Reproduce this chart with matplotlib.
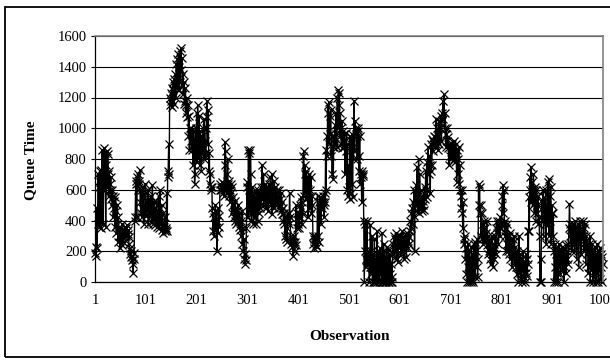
import numpy as np
import matplotlib.pyplot as plt
from matplotlib.patches import Rectangle

# queue time per observation in blocks of 100
q_001_100 = [
    190, 230, 170, 480, 220, 380, 700, 620, 360, 720,
    650, 730, 350, 610, 860, 700, 380, 640, 870, 600,
    840, 360, 760, 850, 620, 830, 700, 560, 720, 640,
    600, 680, 540, 600, 500, 560, 420, 530, 480, 360,
    550, 460, 320, 500, 380, 260, 420, 300, 340, 220,
    350, 280, 300, 240, 380, 310, 260, 340, 290, 360,
    320, 350, 300, 370, 310, 340, 290, 250, 220, 180,
    200, 160, 140, 170, 120, 60, 150, 190, 420, 400,
    640, 660, 420, 680, 600, 700, 660, 640, 730, 520,
    450, 600, 480, 420, 560, 620, 380, 500, 450, 640,
]
q_101_200 = [
    580, 430, 520, 470, 600, 380, 540, 450, 500, 420,
    560, 470, 390, 630, 450, 380, 520, 410, 480, 370,
    440, 520, 360, 470, 400, 560, 350, 480, 600, 420,
    380, 500, 340, 450, 320, 380, 360, 330, 420, 350,
    340, 580, 330, 680, 720, 900, 700, 1200, 1150, 1230,
    1180, 1260, 1140, 1300, 1250, 1320, 1160, 1280, 1350, 1200,
    1420, 1290, 1450, 1250, 1480, 1400, 1250, 1500, 1300, 1520,
    1380, 1460, 1280, 1350, 1220, 1300, 1160, 1180, 1260, 1100,
    1150, 1200, 1070, 1150, 950, 1080, 860, 1000, 920, 1000,
    860, 990, 920, 760, 980, 900, 640, 700, 1000, 820,
]
q_201_300 = [
    1100, 780, 1150, 900, 820, 1080, 760, 980, 860, 720,
    950, 830, 1000, 880, 800, 1060, 820, 920, 840, 1000,
    1180, 1070, 900, 1120, 720, 840, 640, 700, 620, 600,
    620, 480, 330, 450, 300, 420, 380, 500, 340, 460,
    200, 400, 320, 480, 360, 430, 600, 640, 620, 600,
    650, 580, 620, 640, 560, 760, 910, 850, 620, 700,
    580, 800, 640, 560, 660, 600, 520, 640, 580, 620,
    450, 550, 500, 420, 470, 400, 530, 440, 380, 460,
    420, 500, 400, 450, 360, 420, 340, 400, 300, 460,
    250, 350, 200, 280, 150, 120, 180, 140, 350, 620,
]
q_301_400 = [
    650, 420, 860, 600, 840, 450, 860, 700, 400, 620,
    450, 560, 380, 520, 600, 420, 550, 380, 480, 570,
    400, 600, 450, 520, 560, 480, 620, 500, 560, 760,
    540, 620, 700, 500, 640, 600, 560, 480, 620, 540,
    580, 460, 640, 520, 600, 680, 500, 560, 440, 700,
    520, 600, 480, 660, 560, 620, 500, 580, 540, 600,
    520, 560, 480, 600, 540, 500, 580, 460, 520, 440,
    480, 400, 450, 380, 300, 420, 280, 350, 260, 440,
    400, 450, 380, 580, 420, 300, 250, 280, 230, 260,
    170, 240, 300, 200, 260, 240, 500, 350, 450, 400,
]
q_401_500 = [
    380, 450, 350, 500, 420, 550, 480, 380, 520, 440,
    820, 850, 560, 760, 700, 540, 720, 600, 680, 420,
    650, 550, 700, 480, 600, 680, 450, 560, 500, 300,
    250, 280, 220, 300, 260, 240, 280, 230, 560, 300,
    520, 260, 480, 550, 500, 380, 540, 480, 520, 560,
    500, 420, 580, 520, 860, 600, 950, 820, 1150, 1100,
    1170, 900, 1080, 960, 1120, 820, 950, 700, 880, 670,
    950, 880, 1020, 900, 1100, 960, 880, 1200, 1000, 1250,
    1150, 1230, 950, 1100, 1000, 900, 1050, 870, 980, 920,
    880, 960, 700, 920, 850, 970, 600, 900, 560, 760,
]
q_501_600 = [
    620, 540, 950, 580, 900, 640, 960, 550, 880, 800,
    1180, 850, 1050, 960, 1000, 950, 800, 980, 1000, 820,
    720, 950, 640, 700, 680, 520, 720, 690, 700, 400,
    0, 200, 380, 150, 100, 400, 180, 120, 200, 150,
    0, 100, 370, 200, 50, 300, 120, 0, 180, 0,
    280, 60, 0, 150, 20, 330, 0, 100, 200, 10,
    0, 220, 50, 180, 0, 320, 150, 0, 250, 80,
    200, 0, 160, 0, 230, 30, 0, 110, 210, 0,
    50, 180, 0, 120, 0, 30, 250, 180, 300, 220,
    160, 280, 200, 320, 150, 260, 130, 290, 220, 300,
]
q_601_700 = [
    250, 300, 180, 280, 240, 330, 200, 290, 150, 260,
    300, 230, 280, 160, 320, 270, 220, 300, 250, 290,
    330, 400, 350, 450, 480, 380, 520, 430, 600, 200,
    500, 460, 630, 520, 750, 480, 560, 800, 450, 700,
    520, 600, 480, 550, 460, 530, 500, 580, 470, 620,
    540, 720, 600, 780, 550, 750, 880, 700, 820, 760,
    580, 900, 720, 760, 930, 850, 920, 900, 950, 880,
    940, 1060, 900, 1000, 920, 860, 950, 1050, 900, 1000,
    1000, 1080, 920, 1100, 1050, 1180, 1060, 1220, 1000, 1100,
    960, 880, 1000, 920, 870, 940, 900, 760, 900, 820,
]
q_701_800 = [
    880, 800, 900, 850, 820, 880, 920, 800, 860, 780,
    900, 840, 650, 860, 800, 700, 880, 640, 760, 600,
    560, 480, 600, 450, 350, 520, 280, 250, 300, 150,
    220, 50, 180, 0, 250, 100, 0, 200, 60, 150,
    0, 230, 80, 10, 180, 0, 250, 120, 30, 260,
    200, 100, 280, 30, 150, 640, 500, 620, 450, 500,
    300, 450, 280, 380, 250, 400, 300, 350, 260, 320,
    280, 400, 240, 300, 180, 270, 200, 150, 260, 120,
    220, 180, 300, 200, 100, 250, 150, 220, 300, 180,
    350, 400, 320, 380, 250, 360, 400, 300, 420, 350,
]
q_801_900 = [
    380, 500, 560, 630, 450, 600, 380, 300, 400, 200,
    350, 250, 380, 200, 300, 180, 320, 150, 280, 220,
    250, 100, 200, 280, 150, 300, 120, 230, 100, 180,
    50, 200, 100, 0, 150, 300, 60, 180, 20, 120,
    0, 150, 80, 200, 30, 130, 0, 100, 180, 60,
    150, 40, 330, 120, 550, 330, 680, 600, 750, 520,
    650, 580, 500, 700, 600, 450, 620, 520, 400, 600,
    500, 450, 560, 380, 420, 300, 0, 150, 0, 480,
    520, 400, 600, 300, 550, 450, 380, 600, 250, 500,
    420, 650, 380, 670, 300, 560, 400, 620, 250, 450,
]
q_901_1001 = [
    500, 300, 450, 200, 0, 100, 250, 0, 180, 60,
    220, 0, 150, 250, 100, 200, 50, 180, 120, 230,
    80, 200, 150, 0, 220, 100, 180, 60, 240, 150,
    200, 120, 250, 350, 510, 380, 300, 250, 350, 200,
    300, 380, 250, 330, 200, 400, 280, 350, 150, 320,
    280, 380, 100, 300, 400, 250, 350, 180, 330, 280,
    400, 300, 350, 200, 380, 260, 120, 300, 180, 260,
    220, 60, 250, 100, 300, 0, 200, 80, 250, 150,
    0, 200, 120, 30, 230, 100, 0, 180, 60, 250,
    150, 0, 200, 80, 220, 20, 180, 100, 0, 160, 120,
]

queue = (q_001_100 + q_101_200 + q_201_300 + q_301_400 + q_401_500
         + q_501_600 + q_601_700 + q_701_800 + q_801_900 + q_901_1001)
obs = np.arange(1, len(queue) + 1)
xtick_vals = list(range(1, 1002, 100))
ytick_vals = list(range(0, 1601, 200))

plt.rcParams['font.family'] = ['Liberation Serif', 'DejaVu Serif']

W, H = 610, 362
fig = plt.figure(figsize=(W / 100, H / 100), dpi=100)
# outer chart border (right side runs off the image)
fig.patches.append(Rectangle((5 / W, 1 - 357 / H), 610 / W, 350 / H,
                             transform=fig.transFigure, fill=False,
                             edgecolor='black', linewidth=1.3))

ax = fig.add_axes([95 / W, 1 - 282 / H, (603 - 95) / W, (282 - 36) / H])
ax.plot(obs, queue, color='black', linewidth=1.0, marker='x',
        markersize=5.5, markeredgewidth=0.9, clip_on=False)

ax.set_xlim(1, len(queue))
ax.set_ylim(0, 1600)
ax.set_xticks(xtick_vals)
ax.set_xticklabels([str(v) for v in xtick_vals])
ax.set_yticks(ytick_vals)
ax.yaxis.grid(True, color='black', linewidth=0.8)
ax.set_axisbelow(True)
ax.tick_params(axis='x', length=0, pad=9, labelsize=10.5)
ax.tick_params(axis='y', length=3, width=0.8, pad=3, labelsize=10.5)

for side in ['top', 'right']:
    ax.spines[side].set_color('#808080')
    ax.spines[side].set_linewidth(1.2)
for side in ['left', 'bottom']:
    ax.spines[side].set_color('black')
    ax.spines[side].set_linewidth(0.9)

fig.text(31 / W, 1 - 160 / H, 'Queue Time', rotation=90, ha='center',
         va='center', fontsize=11, fontweight='bold')
fig.text(349 / W, 1 - 336 / H, 'Observation', ha='center', va='center',
         fontsize=11, fontweight='bold')

fig.savefig('out.png', dpi=100)
